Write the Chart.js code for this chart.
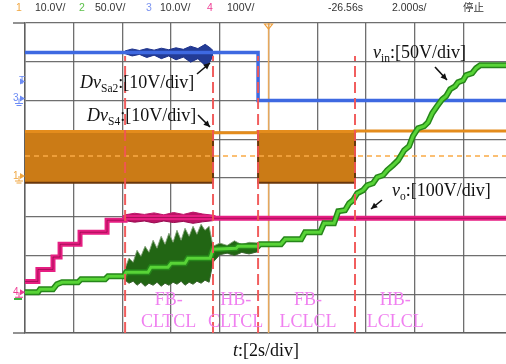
<!DOCTYPE html>
<html>
<head>
<meta charset="utf-8">
<script src="https://cdn.jsdelivr.net/npm/chart.js@4.4.0/dist/chart.umd.min.js"></script>
<style>
html, body { margin: 0; padding: 0; background: #fff; overflow: hidden; }
</style>
</head>
<body>
<canvas id="scope" width="506" height="364"></canvas>
<script>
// time in s from the left edge of the screen (2 s/div), values in volts of each channel

// ch1 (orange, 10 V/div) - switching band between top and bottom envelope
var ch1Time = [0, 7.72, 9.57, 13.55, 19.75];
var ch1Top = [12.0, 11.7, 12.0, 12.1, 12.1];
var ch1Bottom = [-1.2, 11.7, -1.2, 12.1, 12.1];
var ch1Level = 5.7;

// ch3 (blue, 10 V/div)
var ch3Time = [0, 9.57, 19.75];
var ch3Volts = [12.4, 0, 0];
var ch3NoiseTime = [4.11, 4.4, 4.7, 5.0, 5.3, 5.6, 5.9, 6.2, 6.5, 6.8, 7.1, 7.4, 7.6, 7.72];
var ch3NoiseTop = [12.8, 13.3, 12.9, 13.4, 13.0, 13.5, 13.1, 13.6, 13.2, 14.0, 13.4, 14.5, 13.6, 12.9];
var ch3NoiseBottom = [12.1, 11.5, 11.9, 11.1, 11.7, 10.8, 11.5, 10.5, 11.2, 9.9, 10.8, 9.0, 10.0, 11.6];

// ch4 (pink, 100 V/div) - step levels
var ch4Time = [0, 0.53, 1.15, 1.44, 2.26, 3.37, 4.11, 7.72, 19.75];
var ch4Volts = [33, 64, 96, 129, 160, 191, 198, 196, 196];
var ch4NoiseTime = [4.11, 4.5, 4.9, 5.3, 5.7, 6.1, 6.5, 6.9, 7.3, 7.72];
var ch4NoiseTop = [205, 209, 206, 210, 205, 211, 206, 212, 207, 204];
var ch4NoiseBottom = [190, 186, 189, 184, 189, 185, 188, 183, 187, 190];

// ch2 (green, 50 V/div)
var ch2Time = [0, 0.53, 0.62, 1.15, 1.31, 1.52, 2.18, 2.30, 3.29, 3.41, 4.07, 4.15, 5.05, 5.17, 5.87,
  6.00, 6.57, 6.69, 7.60, 7.72, 8.67, 8.75, 9.57, 9.65, 10.51, 10.68, 11.34, 11.50, 12.12, 12.28,
  12.69, 12.86, 13.14, 13.31, 13.47, 13.64, 13.88, 14.05, 14.29, 14.46, 14.70, 14.87, 15.11, 15.32,
  15.57, 15.77, 15.93, 16.14, 16.39, 16.55, 16.72, 16.92, 17.13, 17.29, 17.46, 17.66, 17.78, 17.99,
  18.11, 18.36, 18.52, 18.69, 19.75];
var ch2Volts = [2.6, 2.6, 6.5, 6.5, 12.9, 15.5, 15.5, 19.4, 19.4, 23.2, 23.2, 28.4, 28.4, 34.8, 34.8,
  40.0, 40.0, 46.5, 46.5, 58.1, 59.4, 61.9, 61.9, 64.5, 64.5, 71.0, 71.0, 80.0, 80.0, 91.6,
  91.6, 107.1, 108.4, 117.4, 121.3, 130.3, 134.2, 140.6, 143.2, 151.0, 153.5, 160.0, 166.5, 172.9,
  185.8, 191.0, 203.9, 214.2, 216.8, 221.9, 233.5, 242.6, 251.6, 255.5, 264.5, 268.4, 273.5, 276.1,
  282.6, 285.2, 291.6, 295.5, 295.5];
var ch2NoiseTime = [4.11, 4.27, 4.44, 4.60, 4.76, 4.93, 5.09, 5.26, 5.42, 5.59, 5.75, 5.91, 6.08, 6.24,
  6.41, 6.57, 6.74, 6.90, 7.06, 7.23, 7.39, 7.56, 7.72, 8.0, 8.3, 8.6, 8.9, 9.2, 9.57];
var ch2NoiseTop = [33.5, 46.5, 41.3, 56.8, 49.0, 61.9, 54.2, 69.7, 59.4, 74.8, 64.5, 78.7, 67.1, 82.6,
  69.7, 85.2, 74.8, 87.7, 77.4, 90.3, 82.6, 87.7, 61.9, 66, 63, 69, 64, 67, 66];
var ch2NoiseBottom = [18.1, 14.2, 16.8, 11.6, 15.5, 10.3, 14.2, 11.6, 15.5, 10.3, 14.2, 11.6, 15.5, 12.9,
  16.8, 11.6, 15.5, 12.9, 16.8, 14.2, 18.1, 15.5, 41.3, 51, 53, 50, 54, 52, 55];

// cursors and mode labels
var modeLines = [4.11, 7.72, 9.57, 13.55];
var triggerTime = 10;
var modeNames = [['FB-', 'CLTCL'], ['HB-', 'CLTCL'], ['FB-', 'LCLCL'], ['HB-', 'LCLCL']];
var modeCenters = [5.9, 8.65, 11.62, 15.2];
var headerLabels = [['1', '#f0a640'], ['10.0V/', '#333'], ['2', '#5cc04a'], ['50.0V/', '#333'],
  ['3', '#7b93f0'], ['10.0V/', '#333'], ['4', '#ee3d94'], ['100V/', '#333'],
  ['-26.56s', '#333'], ['2.000s/', '#333'], ['停止', '#333']];

var gridColor = 'rgba(95,95,95,0.9)';

function pts(t, v) {
  return t.map(function (x, i) { return { x: x, y: v[i] }; });
}
function stepPts(t, v) {
  var out = [];
  for (var i = 0; i < t.length; i++) {
    if (i > 0) out.push({ x: t[i], y: v[i - 1] });
    out.push({ x: t[i], y: v[i] });
  }
  return out;
}

var datasets = [];
modeLines.forEach(function (t) {
  datasets.push({ data: [{ x: t, y: 0 }, { x: t, y: 7.15 }], yAxisID: 'y',
    borderColor: 'rgba(240,85,85,0.95)', borderWidth: 2, borderDash: [11, 5], order: 0 });
});
datasets.push({ data: [{ x: triggerTime, y: 0 }, { x: triggerTime, y: 8 }], yAxisID: 'y',
  borderColor: 'rgba(245,175,90,0.9)', borderWidth: 1.5, order: 12 });
datasets.push({ data: pts(ch2Time, ch2Volts), yAxisID: 'y2',
  borderColor: 'rgb(88,212,55)', borderWidth: 3, order: 2 });
datasets.push({ data: pts(ch2Time, ch2Volts), yAxisID: 'y2',
  borderColor: 'rgb(38,135,26)', borderWidth: 6, order: 3 });
datasets.push({ data: pts(ch2NoiseTime, ch2NoiseTop), yAxisID: 'y2',
  borderColor: 'rgba(130,160,120,0.9)', borderWidth: 1, order: 4 });
datasets.push({ data: pts(ch2NoiseTime, ch2NoiseBottom), yAxisID: 'y2', fill: '-1',
  backgroundColor: 'rgb(34,102,20)', borderColor: 'rgb(60,100,50)', borderWidth: 1, order: 4 });
datasets.push({ data: stepPts(ch4Time, ch4Volts), yAxisID: 'y4',
  borderColor: 'rgba(110,0,50,0.5)', borderWidth: 1, order: 5 });
datasets.push({ data: stepPts(ch4Time, ch4Volts), yAxisID: 'y4',
  borderColor: 'rgb(230,30,130)', borderWidth: 5, order: 6 });
datasets.push({ data: pts(ch4NoiseTime, ch4NoiseTop), yAxisID: 'y4',
  borderColor: 'rgb(190,20,105)', borderWidth: 1, order: 7 });
datasets.push({ data: pts(ch4NoiseTime, ch4NoiseBottom), yAxisID: 'y4', fill: '-1',
  backgroundColor: 'rgb(185,20,100)', borderColor: 'rgb(150,10,80)', borderWidth: 1, order: 7 });
datasets.push({ data: stepPts(ch3Time, ch3Volts), yAxisID: 'y3',
  borderColor: 'rgb(62,105,225)', borderWidth: 3.5, order: 8 });
datasets.push({ data: pts(ch3NoiseTime, ch3NoiseTop), yAxisID: 'y3',
  borderColor: 'rgb(30,50,140)', borderWidth: 1, order: 9 });
datasets.push({ data: pts(ch3NoiseTime, ch3NoiseBottom), yAxisID: 'y3', fill: '-1',
  backgroundColor: 'rgb(35,60,150)', borderColor: 'rgb(28,48,135)', borderWidth: 1, order: 9 });
datasets.push({ data: [{ x: 0, y: ch1Level }, { x: 19.75, y: ch1Level }], yAxisID: 'y1',
  borderColor: 'rgb(250,170,70)', borderWidth: 1.5, borderDash: [5, 4], order: 10 });
datasets.push({ data: stepPts(ch1Time, ch1Top), yAxisID: 'y1',
  borderColor: 'rgb(228,140,28)', borderWidth: 3, order: 11 });
datasets.push({ data: stepPts(ch1Time, ch1Bottom), yAxisID: 'y1', fill: '-1',
  backgroundColor: 'rgb(203,123,22)', borderColor: 'rgb(105,55,12)', borderWidth: 2, order: 11 });

function rich(ctx, parts, x, y, size) {
  parts.forEach(function (p) {
    var s = p.sub ? size * 0.64 : size;
    ctx.font = (p.it ? 'italic ' : '') + s + 'px "Liberation Serif"';
    ctx.fillText(p.t, x, y + (p.sub ? size * 0.2 : 0));
    x += ctx.measureText(p.t).width;
  });
}
function arrow(ctx, x1, y1, x2, y2) {
  var a = Math.atan2(y2 - y1, x2 - x1);
  ctx.beginPath();
  ctx.moveTo(x1, y1);
  ctx.lineTo(x2, y2);
  ctx.stroke();
  ctx.beginPath();
  ctx.moveTo(x2, y2);
  ctx.lineTo(x2 - 7 * Math.cos(a - 0.45), y2 - 7 * Math.sin(a - 0.45));
  ctx.lineTo(x2 - 7 * Math.cos(a + 0.45), y2 - 7 * Math.sin(a + 0.45));
  ctx.closePath();
  ctx.fill();
}

var scopeText = {
  id: 'scopeText',
  afterDraw: function (chart) {
    var ctx = chart.ctx, area = chart.chartArea, xs = chart.scales.x;
    ctx.save();
    // header line
    var hx = [16, 35, 79, 95, 146, 160, 207, 227, 328, 392, 463];
    ctx.font = '10.5px "Liberation Sans", "Noto Sans CJK SC"';
    ctx.textBaseline = 'middle';
    headerLabels.forEach(function (h, i) {
      ctx.fillStyle = h[1];
      ctx.fillText(h[0], hx[i], 8);
    });
    // frame extensions
    ctx.strokeStyle = gridColor;
    ctx.lineWidth = 1.3;
    ctx.beginPath();
    ctx.moveTo(13, area.top); ctx.lineTo(area.left, area.top);
    ctx.moveTo(13, area.bottom); ctx.lineTo(area.left, area.bottom);
    ctx.stroke();
    // trigger marker
    var tx = xs.getPixelForValue(triggerTime);
    ctx.strokeStyle = 'rgb(240,160,60)';
    ctx.lineWidth = 1.2;
    ctx.beginPath();
    ctx.moveTo(tx - 4, area.top + 1); ctx.lineTo(tx + 4, area.top + 1); ctx.lineTo(tx, area.top + 6);
    ctx.closePath();
    ctx.stroke();
    // channel markers
    ctx.font = '10px "Liberation Sans"';
    var marks = [['T', '#6d8cf5', 'y3', 4.4], ['3', '#6d8cf5', 'y3', 0], ['1', '#f0a640', 'y1', 0],
      ['4', '#ee3d94', 'y4', 0]];
    marks.forEach(function (m) {
      var py = chart.scales[m[2]].getPixelForValue(m[3]) - 2;
      ctx.fillStyle = m[1];
      ctx.fillText(m[0], m[0] === 'T' ? 19 : 13, py);
      ctx.beginPath();
      ctx.moveTo(20, py - 3); ctx.lineTo(25, py); ctx.lineTo(20, py + 3);
      ctx.closePath(); ctx.fill();
      if (m[0] !== 'T') {
        ctx.strokeStyle = m[1];
        ctx.lineWidth = 1;
        ctx.beginPath();
        ctx.moveTo(19, py); ctx.lineTo(19, py + 5);
        ctx.moveTo(15, py + 5); ctx.lineTo(23, py + 5);
        ctx.moveTo(16.5, py + 7); ctx.lineTo(21.5, py + 7);
        ctx.stroke();
      }
    });
    ctx.fillStyle = '#3cb43c';
    ctx.fillRect(14, 298, 8, 2);
    // mode labels
    ctx.fillStyle = 'rgb(240,128,240)';
    ctx.font = '18px "Liberation Serif"';
    ctx.textAlign = 'center';
    ctx.textBaseline = 'alphabetic';
    modeNames.forEach(function (n, i) {
      var cx = xs.getPixelForValue(modeCenters[i]);
      ctx.fillText(n[0], cx, 305);
      ctx.fillText(n[1], cx, 327);
    });
    // annotations
    ctx.textAlign = 'left';
    ctx.fillStyle = '#111';
    ctx.strokeStyle = '#111';
    ctx.lineWidth = 1.6;
    rich(ctx, [{ t: 'Dv', it: true }, { t: 'Sa2', sub: true }, { t: ':[10V/div]' }], 80, 88, 18);
    rich(ctx, [{ t: 'Dv', it: true }, { t: 'S4', sub: true }, { t: ':[10V/div]' }], 87, 121, 18);
    rich(ctx, [{ t: 'v', it: true }, { t: 'in', sub: true }, { t: ':[50V/div]' }], 373, 58, 18);
    rich(ctx, [{ t: 'v', it: true }, { t: 'o', sub: true }, { t: ':[100V/div]' }], 392, 196, 18);
    rich(ctx, [{ t: 't', it: true }, { t: ':[2s/div]' }], 233, 356, 18);
    arrow(ctx, 197, 74, 210, 63);
    arrow(ctx, 198, 115, 210, 127);
    arrow(ctx, 435, 67, 447, 80);
    arrow(ctx, 382, 200, 371, 209);
    ctx.restore();
  }
};

new Chart(document.getElementById('scope'), {
  type: 'line',
  data: { datasets: datasets },
  options: {
    responsive: false,
    animation: false,
    events: [],
    layout: { padding: { left: 25, top: 23, right: 0, bottom: 31 } },
    plugins: { legend: { display: false }, tooltip: { enabled: false } },
    elements: { point: { radius: 0 }, line: { tension: 0 } },
    scales: {
      x: {
        type: 'linear', min: 0, max: 19.75,
        ticks: { display: false, stepSize: 2, includeBounds: false },
        grid: { color: gridColor, lineWidth: 1.3, drawTicks: false },
        border: { color: gridColor, width: 1.5 }
      },
      y: {
        type: 'linear', min: 0, max: 8,
        ticks: { display: false, stepSize: 1 },
        grid: { color: gridColor, lineWidth: 1.3, drawTicks: false },
        border: { color: gridColor, width: 1.5 }
      },
      y1: { type: 'linear', display: false, min: -40, max: 40 },
      y2: { type: 'linear', display: false, min: -50, max: 350 },
      y3: { type: 'linear', display: false, min: -60, max: 20 },
      y4: { type: 'linear', display: false, min: -100, max: 700 }
    }
  },
  plugins: [scopeText]
});
</script>
</body>
</html>
